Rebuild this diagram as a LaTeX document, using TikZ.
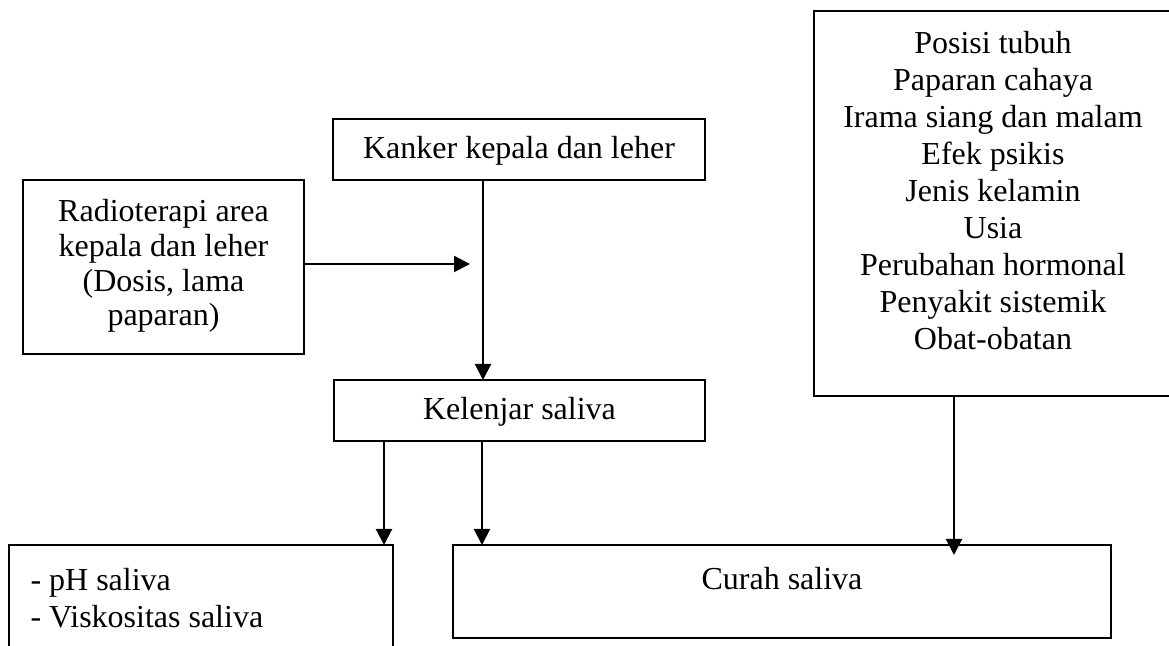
\documentclass[tikz,border=0pt]{standalone}
\usepackage{fontspec}
\setmainfont{Liberation Serif}
\usetikzlibrary{arrows.meta}
\tikzset{
  box/.style={draw, line width=0.75pt, inner sep=0pt, outer sep=0pt},
  txt/.style={font=\fontsize{12}{13.84}\selectfont, inner sep=0pt, align=center},
  arr/.style={line width=0.8pt, -{Triangle[length=6pt,width=6pt]}}
}
\begin{document}
\begin{tikzpicture}[x=0.375pt,y=-0.375pt]
\clip (0,0) rectangle (1169,646);
\fill[white] (0,0) rectangle (1169,646);
% boxes
\node[box, minimum width=139.5pt, minimum height=22.875pt] (kanker) at (519,149.5) {};
\node[box, minimum width=105.375pt, minimum height=65.25pt] (radio) at (163.5,267) {};
\node[box, minimum width=139.125pt, minimum height=22.875pt] (kel) at (519.5,410.5) {};
\node[box, minimum width=134.25pt, minimum height=144.375pt] (rbox) at (993,203.5) {};
\node[box, minimum width=144pt, minimum height=43.125pt] (lbox) at (201,602.5) {};
\node[box, minimum width=246.75pt, minimum height=34.875pt] (curah) at (782,591.5) {};
% texts
\node[txt] (kankert) at (519,151) {Kanker kepala dan leher};
\node[txt, font=\fontsize{12}{13}\selectfont] (radiot) at (163.5,266) {Radioterapi area\\kepala dan leher\\(Dosis, lama\\paparan)};
\node[txt] (kelt) at (519.5,412) {Kelenjar saliva};
\node[txt] (rboxt) at (993,190.5) {Posisi tubuh\\Paparan cahaya\\Irama siang dan malam\\Efek psikis\\Jenis kelamin\\Usia\\Perubahan hormonal\\Penyakit sistemik\\Obat-obatan};
\node[txt, align=left, anchor=west] (lboxt) at (30,598) {- pH saliva\\- Viskositas saliva};
\node[txt] (curaht) at (782,579) {Curah saliva};
% connector coordinates
\coordinate (rj) at (470,264);
\coordinate (kx) at (483,0);
\coordinate (lx) at (384,0);
\coordinate (cx) at (482,0);
\coordinate (ct) at (954,555);
% connectors
\draw[arr] (rj -| radio.east) -- (rj);
\draw[arr] (kanker.south -| kx) -- (kel.north -| kx);
\draw[arr] (kel.south -| lx) -- (lbox.north -| lx);
\draw[arr] (kel.south -| cx) -- (curah.north -| cx);
\draw[arr] (rbox.south -| ct) -- (ct);
\end{tikzpicture}
\end{document}
